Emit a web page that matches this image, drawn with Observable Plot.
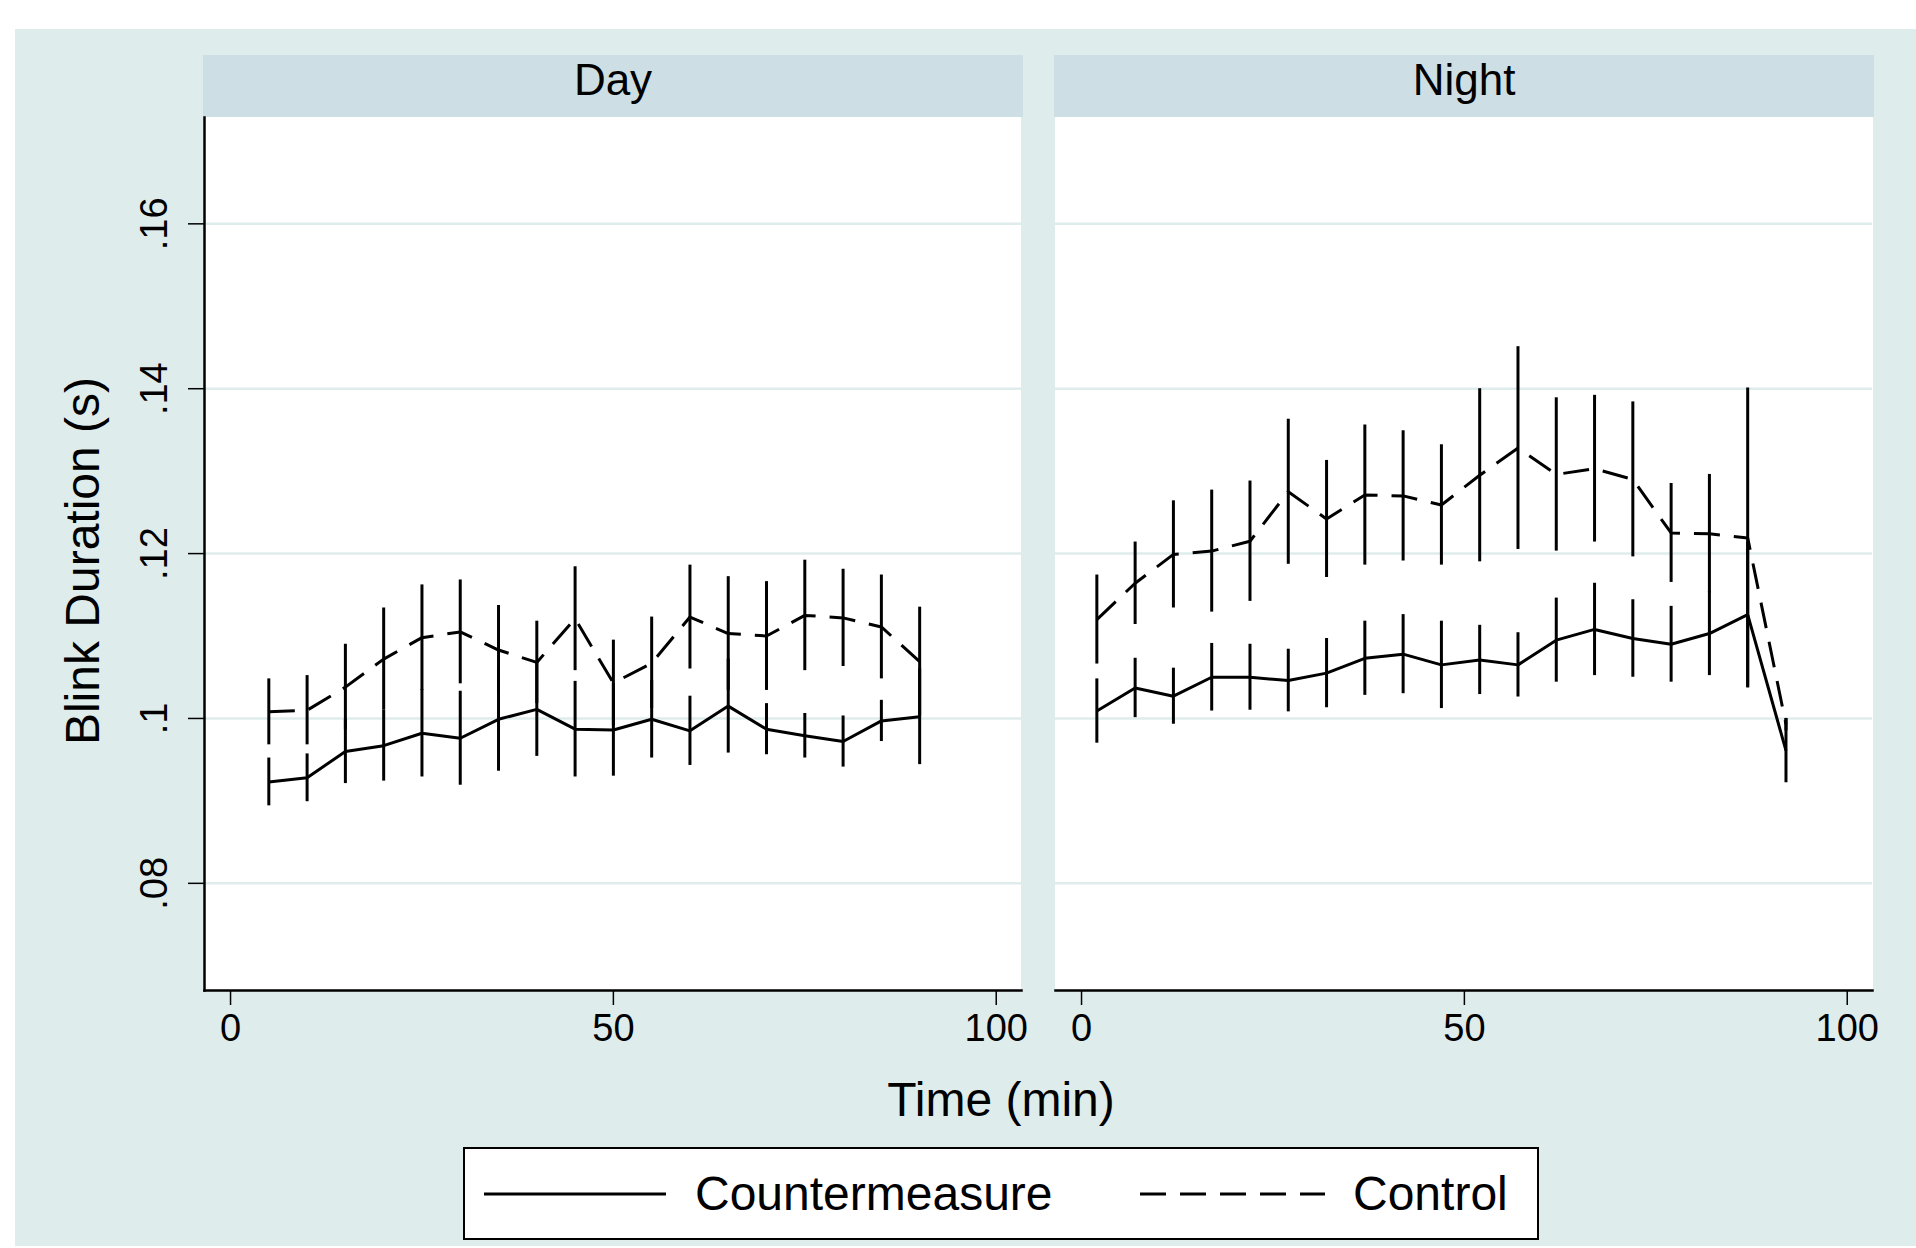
<!DOCTYPE html>
<html><head><meta charset="utf-8">
<script src="https://cdn.jsdelivr.net/npm/d3@7"></script>
<script src="https://cdn.jsdelivr.net/npm/@observablehq/plot@0.6"></script>
<style>
body{margin:0;background:#fff;}
#root{position:relative;width:1916px;height:1248px;overflow:hidden;font-family:"Liberation Sans",Arial,Helvetica,sans-serif;color:#000;}
#bg{position:absolute;left:15px;top:29px;width:1901px;height:1217px;background:#dfecec;}
.hdr{position:absolute;top:55px;height:62px;background:#cddfe4;}
.hdr span{position:absolute;left:0;right:0;top:2.8px;text-align:center;font-size:44px;line-height:44px;}
.area{position:absolute;top:117px;height:873px;background:#fff;}
.txt{position:absolute;white-space:nowrap;font-size:48px;line-height:48px;}
.panel{position:absolute;top:117px;}
#legend{position:absolute;left:463px;top:1147px;width:1072px;height:89px;border:2px solid #000;background:#fff;}
</style></head>
<body><div id="root">
<div id="bg"></div>
<div class="hdr" style="left:203px;width:820px"><span>Day</span></div>
<div class="hdr" style="left:1054px;width:820px"><span>Night</span></div>
<div class="area" style="left:204px;width:817px"></div>
<div class="area" style="left:1055px;width:818px"></div>
<div id="dayPanel" class="panel" style="left:100px"></div>
<div id="nightPanel" class="panel" style="left:1055px"></div>
<div class="txt" style="left:82.5px;top:561px;transform:translate(-50%,-50%) rotate(-90deg)">Blink Duration (s)</div>
<div class="txt" style="left:1001px;top:1076px;transform:translateX(-50%)">Time (min)</div>
<div id="legend">
<svg width="1072" height="89" style="position:absolute;left:0;top:0">
<line x1="19" x2="201" y1="45" y2="45" stroke="#000" stroke-width="3"/>
<line x1="675" x2="860" y1="45" y2="45" stroke="#000" stroke-width="3" stroke-dasharray="26,14"/>
</svg>
<div class="txt" style="left:230px;top:21.4px">Countermeasure</div>
<div class="txt" style="left:888px;top:21.4px">Control</div>
</div>
</div>
<script>
// ---- data ----
const seriesNames = ["Countermeasure", "Control"];
const xTicks = [0, 50, 100];
const yTicks = [0.08, 0.10, 0.12, 0.14, 0.16];
const yTickLabels = [".08", ".1", ".12", ".14", ".16"];

const dayTime = [5,10,15,20,25,30,35,40,45,50,55,60,65,70,75,80,85,90];
const dayCmMean = [.0923,.0928,.0960,.0967,.0982,.0976,.0999,.1011,.0987,.0986,.0999,.0985,.1015,.0987,.0979,.0972,.0997,.1002];
const dayCmLo   = [.0894,.0899,.0921,.0924,.0929,.0919,.0936,.0954,.0929,.0930,.0952,.0943,.0958,.0956,.0952,.0941,.0972,.0944];
const dayCmHi   = [.0952,.0957,.0999,.1010,.1035,.1033,.1062,.1068,.1045,.1042,.1046,.1027,.1072,.1018,.1006,.1003,.1022,.1060];
const dayCtMean = [.1008,.1010,.1038,.1072,.1098,.1105,.1083,.1068,.1121,.1043,.1067,.1123,.1103,.1100,.1125,.1122,.1111,.1069];
const dayCtLo   = [.0968,.0968,.0986,.1010,.1034,.1042,.1029,.1018,.1058,.0991,.1012,.1060,.1034,.1034,.1058,.1063,.1048,.1003];
const dayCtHi   = [.1048,.1052,.1090,.1134,.1162,.1168,.1137,.1118,.1184,.1095,.1123,.1186,.1172,.1166,.1192,.1181,.1174,.1135];

const nightTime = [2,7,12,17,22,27,32,37,42,47,52,57,62,67,72,77,82,87,92];
const nightCmMean = [.1009,.1037,.1027,.1050,.1050,.1046,.1055,.1073,.1078,.1065,.1071,.1065,.1095,.1108,.1097,.1090,.1103,.1126,.0961];
const nightCmLo   = [.0970,.1001,.0993,.1009,.1010,.1008,.1013,.1028,.1030,.1012,.1029,.1026,.1044,.1052,.1050,.1044,.1052,.1038,.0922];
const nightCmHi   = [.1048,.1073,.1061,.1091,.1090,.1084,.1097,.1118,.1126,.1118,.1113,.1104,.1146,.1164,.1144,.1136,.1154,.1214,.1000];
const nightCtMean = [.1120,.1164,.1199,.1203,.1215,.1275,.1242,.1271,.1270,.1259,.1295,.1328,.1296,.1303,.1290,.1225,.1224,.1219,.0993];
const nightCtLo   = [.1066,.1114,.1134,.1129,.1142,.1187,.1171,.1186,.1191,.1186,.1190,.1205,.1203,.1214,.1196,.1165,.1152,.1037,.0985];
const nightCtHi   = [.1174,.1214,.1264,.1277,.1288,.1363,.1313,.1356,.1349,.1332,.1400,.1451,.1389,.1392,.1384,.1285,.1296,.1401,.1000];

// ---- chart ----
const xDomain = [-3.4, 103.3];
const yDomain = [0.0670, 0.1729];
const gridColor = "#dfecec";

function rows(time, mean, lo, hi) {
  return time.map((t, i) => ({t, m: mean[i], lo: lo[i], hi: hi[i]}));
}

function panel(time, cm, ct, showY) {
  const cmRows = rows(time, ...cm);
  const ctRows = rows(time, ...ct);
  const ml = showY ? 104 : 0;
  const mr = 40;
  return Plot.plot({
    width: ml + 817 + mr,
    height: 943,
    marginLeft: ml, marginRight: mr, marginTop: 0, marginBottom: 70,
    x: {domain: xDomain},
    y: showY ? {domain: yDomain} : {domain: yDomain, axis: null},
    style: {background: "transparent", fontFamily: '"Liberation Sans", Arial, Helvetica, sans-serif', fontSize: "38px", color: "#000", overflow: "visible"},
    marks: [
      Plot.ruleY(yTicks, {stroke: gridColor, strokeWidth: 2.5}),
      Plot.ruleX(ctRows, {x: "t", y1: "lo", y2: "hi", stroke: "#000", strokeWidth: 3}),
      Plot.ruleX(cmRows, {x: "t", y1: "lo", y2: "hi", stroke: "#000", strokeWidth: 3}),
      Plot.line(cmRows, {x: "t", y: "m", stroke: "#000", strokeWidth: 3, strokeLinecap: "butt", strokeLinejoin: "miter"}),
      Plot.line(ctRows, {x: "t", y: "m", stroke: "#000", strokeWidth: 3, strokeLinecap: "butt", strokeLinejoin: "miter", strokeDasharray: "26,14"}),
      Plot.axisX({ticks: xTicks, tickSize: 15, tickPadding: 9, tickFormat: d => String(d), label: null, strokeWidth: 1.5, fontSize: 38}),
      showY ? Plot.axisY({ticks: yTicks, tickSize: 16, tickRotate: -90, tickPadding: 22, tickFormat: d => yTickLabels[yTicks.indexOf(d)], label: null, strokeWidth: 1.5, fontSize: 38}) : null,
      Plot.frame({anchor: "bottom", stroke: "#000", strokeWidth: 2.5}),
      showY ? Plot.frame({anchor: "left", stroke: "#000", strokeWidth: 2.5}) : null
    ]
  });
}

document.getElementById("dayPanel").appendChild(
  panel(dayTime, [dayCmMean, dayCmLo, dayCmHi], [dayCtMean, dayCtLo, dayCtHi], true));
document.getElementById("nightPanel").appendChild(
  panel(nightTime, [nightCmMean, nightCmLo, nightCmHi], [nightCtMean, nightCtLo, nightCtHi], false));
</script>
</body></html>
